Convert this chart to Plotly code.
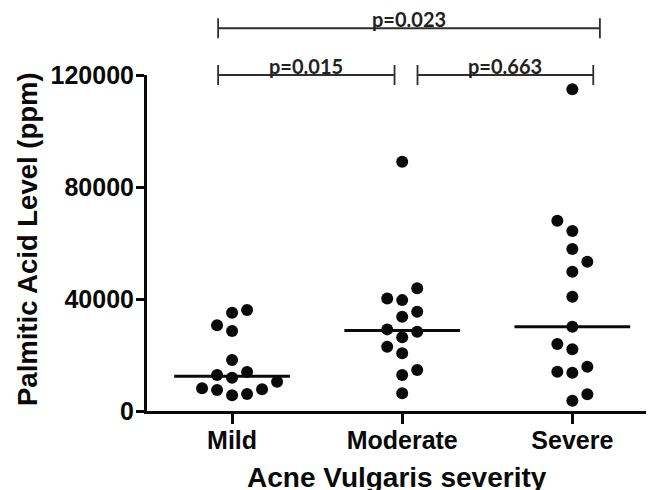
import numpy as np
import plotly.graph_objects as go

# ---------------- data ----------------
categories = ["Mild", "Moderate", "Severe"]
mild = [5600, 6070, 7500, 7750, 8100, 10460, 11900, 12850, 13900, 18200,
        28560, 30600, 35100, 36070]
moderate = [6300, 12850, 14640, 20600, 22950, 26300, 28300, 29150, 33700,
            35450, 39600, 40200, 43800, 89000]
severe = [3680, 5960, 13670, 14030, 15800, 22020, 23900, 30100, 40800,
          49730, 53300, 57830, 64260, 67940, 114950]
y_tick_values = [0, 40000, 80000, 120000]
y_tick_labels = ["0", "40000", "80000", "120000"]
p_labels = ["p=0.015", "p=0.663", "p=0.023"]
x_title = "Acne Vulgaris severity"
y_title = "Palmitic Acid Level (ppm)"

groups = [mild, moderate, severe]

# ---------------- layout / style ----------------
# the page adds an 8px body margin, so the figure is drawn 8px smaller
OFF = 8
W, H = 654 - OFF, 490 - OFF
ML, MR, MT, MB = 147 - OFF, 0, 75 - OFF, 490 - 411
X_RANGE = [-0.5, 2.48]
Y_RANGE = [0, 120000]
plot_w = W - ML - MR
plot_h = H - MT - MB
px_per_x = plot_w / (X_RANGE[1] - X_RANGE[0])
px_per_y = plot_h / (Y_RANGE[1] - Y_RANGE[0])

MARKER_PX = 12
COL_STEP_PX = 15
MIN_SEP_PX = 14
MEDIAN_HALF = 0.34
FONT = "Arial, Liberation Sans, sans-serif"
PFONT = "Lato, Open Sans, sans-serif"
INK = "#0a0a0a"


def px_to_paper_x(px):
    # px measured in page coordinates
    return (px - OFF - ML) / plot_w


def px_to_paper_y(py):
    return (H - MB - (py - OFF)) / plot_h


def swarm(values):
    """Simple beeswarm: place dots in columns next to the category centre."""
    step = COL_STEP_PX / px_per_x
    sep = MIN_SEP_PX / px_per_y
    placed = []
    for v in sorted(values):
        choice = 0
        for m in range(0, 30):
            cands = [0] if m == 0 else [m, -m]
            free = [k for k in cands
                    if all(abs(v - pv) >= sep for pk, pv in placed if pk == k)]
            if free:
                if len(free) == 2:
                    npos = sum(1 for pk, _ in placed if pk > 0)
                    nneg = sum(1 for pk, _ in placed if pk < 0)
                    choice = m if npos <= nneg else -m
                else:
                    choice = free[0]
                break
        placed.append((choice, v))
    xs = [k * step for k, _ in placed]
    ys = [v for _, v in placed]
    return xs, ys


fig = go.Figure()

for i, vals in enumerate(groups):
    dx, ys = swarm(vals)
    fig.add_trace(go.Scatter(
        x=[i + d for d in dx], y=ys, mode="markers",
        marker=dict(size=MARKER_PX, color=INK, line=dict(width=0)),
        cliponaxis=False, showlegend=False, hoverinfo="y"))
    med = float(np.median(vals))
    fig.add_trace(go.Scatter(
        x=[i - MEDIAN_HALF, i + MEDIAN_HALF], y=[med, med], mode="lines",
        line=dict(color=INK, width=3), showlegend=False, hoverinfo="skip"))

# significance brackets (x in category units, level in data units)
bracket_x = [(-0.082, 0.955), (1.09, 2.123), (-0.082, 2.162)]
bracket_level = [120000, 120000, 136700]
tick_half = 10 / plot_h
shapes = []
annotations = []
for (x0, x1), lvl, lab in zip(bracket_x, bracket_level, p_labels):
    yp = lvl / Y_RANGE[1]
    style = dict(type="line", xref="x", yref="paper",
                 line=dict(color="#2e2e2e", width=1.8))
    shapes.append(dict(x0=x0, x1=x1, y0=yp, y1=yp, **style))
    shapes.append(dict(x0=x0, x1=x0, y0=yp - tick_half, y1=yp + tick_half, **style))
    shapes.append(dict(x0=x1, x1=x1, y0=yp - tick_half, y1=yp + tick_half, **style))
    annotations.append(dict(
        x=(x0 + x1) / 2, y=yp, xref="x", yref="paper", text=lab,
        showarrow=False, xanchor="center", yanchor="bottom", yshift=-5,
        font=dict(family=PFONT, size=20, color="#222222", weight="bold")))

annotations.append(dict(
    x=px_to_paper_x(27), y=px_to_paper_y(239), xref="paper", yref="paper",
    text=y_title, textangle=-90, showarrow=False,
    xanchor="center", yanchor="middle",
    font=dict(family=FONT, size=27.5, color=INK, weight="bold")))
annotations.append(dict(
    x=px_to_paper_x(397), y=px_to_paper_y(477), xref="paper", yref="paper",
    text=x_title, showarrow=False, xanchor="center", yanchor="middle",
    font=dict(family=FONT, size=28, color=INK, weight="bold")))

fig.update_layout(
    width=W, height=H,
    margin=dict(l=ML, r=MR, t=MT, b=MB, pad=0),
    paper_bgcolor="white", plot_bgcolor="white",
    showlegend=False,
    shapes=shapes, annotations=annotations,
    xaxis=dict(range=X_RANGE, tickmode="array", tickvals=[0, 1, 2],
               ticktext=categories, showgrid=False, zeroline=False,
               showline=True, linecolor=INK, linewidth=3,
               ticks="outside", ticklen=10, tickwidth=3, tickcolor=INK,
               ticklabelstandoff=-5,
               tickfont=dict(family=FONT, size=25, color=INK, weight="bold"),
               fixedrange=True),
    yaxis=dict(range=Y_RANGE, tickmode="array", tickvals=y_tick_values,
               ticktext=y_tick_labels, showgrid=False, zeroline=False,
               showline=True, linecolor=INK, linewidth=3,
               ticks="outside", ticklen=8, tickwidth=3, tickcolor=INK,
               ticklabelstandoff=-3,
               tickfont=dict(family=FONT, size=25, color=INK, weight="bold"),
               fixedrange=True),
)

fig.write_html("out.html")
